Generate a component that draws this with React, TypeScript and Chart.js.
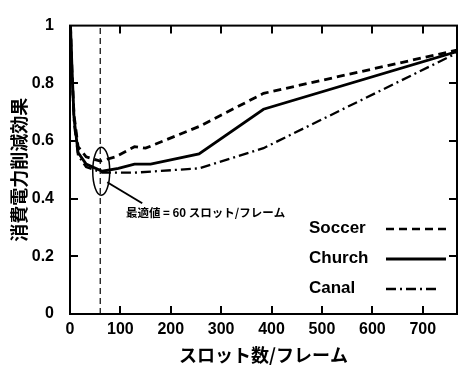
import React, { useEffect, useRef } from "react";
import { Chart, registerables } from "chart.js";

Chart.register(...registerables);

const X_TICKS = [0, 100, 200, 300, 400, 500, 600, 700];
const Y_TICKS = [0, 0.2, 0.4, 0.6, 0.8, 1];
const X_MAX = 768;

const soccerX = [1, 4, 8, 16, 32, 60, 90, 128, 150, 256, 384, 768];
const soccerY = [1.0, 0.84, 0.69, 0.58, 0.545, 0.53, 0.545, 0.58, 0.575, 0.65, 0.765, 0.915];
const churchX = [1, 4, 8, 16, 32, 64, 96, 128, 160, 256, 384, 768];
const churchY = [1.0, 0.85, 0.68, 0.56, 0.52, 0.495, 0.505, 0.52, 0.52, 0.555, 0.71, 0.91];
const canalX = [1, 4, 8, 16, 32, 64, 128, 256, 384, 768];
const canalY = [1.0, 0.82, 0.66, 0.55, 0.51, 0.49, 0.49, 0.505, 0.575, 0.905];

const OPT_X = 60;
const OPT_Y = 0.495;
const LEGEND = ["Soccer", "Church", "Canal"];
const ANNOT = "最適値 = 60 スロット/フレーム";
const X_TITLE = "スロット数/フレーム";
const Y_TITLE = "消費電力削減効果";

const pts = (xs: number[], ys: number[]) => xs.map((x, i) => ({ x, y: ys[i] }));

const DASHES: number[][] = [[8, 5], [], [10, 4, 2, 4]];

export default function App() {
  const ref = useRef<HTMLCanvasElement | null>(null);
  useEffect(() => {
    document.body.style.margin = "0";
    const canvas = ref.current!;
    const framePlugin = {
      id: "frame",
      afterDraw(chart: any) {
        const ctx = chart.ctx;
        const a = chart.chartArea;
        const xs = chart.scales.x;
        const ys = chart.scales.y;
        ctx.save();
        ctx.strokeStyle = "#000";
        ctx.lineWidth = 2;
        ctx.setLineDash([]);
        ctx.strokeRect(a.left, a.top, a.right - a.left, a.bottom - a.top);
        ctx.lineWidth = 2;
        X_TICKS.forEach((v) => {
          if (v === 0) return;
          const px = Math.round(xs.getPixelForValue(v));
          ctx.beginPath();
          ctx.moveTo(px, a.bottom);
          ctx.lineTo(px, a.bottom - 8);
          ctx.moveTo(px, a.top);
          ctx.lineTo(px, a.top + 8);
          ctx.stroke();
        });
        Y_TICKS.forEach((v) => {
          if (v === 0 || v === 1) return;
          const py = Math.round(ys.getPixelForValue(v));
          ctx.beginPath();
          ctx.moveTo(a.left, py);
          ctx.lineTo(a.left + 8, py);
          ctx.moveTo(a.right, py);
          ctx.lineTo(a.right - 8, py);
          ctx.stroke();
        });
        const cx = xs.getPixelForValue(OPT_X) + 1;
        const cy = ys.getPixelForValue(OPT_Y);
        ctx.lineWidth = 1.5;
        ctx.beginPath();
        ctx.ellipse(cx, cy, 8.5, 24, 0, 0, Math.PI * 2);
        ctx.stroke();
        ctx.lineWidth = 2;
        ctx.beginPath();
        ctx.moveTo(cx + 6, cy + 11);
        ctx.lineTo(cx + 41, cy + 32);
        ctx.stroke();
        ctx.fillStyle = "#000";
        ctx.font = "bold 11.5px 'Noto Sans CJK JP', sans-serif";
        ctx.textBaseline = "middle";
        ctx.textAlign = "left";
        ctx.fillText(ANNOT, 126, cy + 41);
        ctx.font = "bold 17px 'Liberation Sans', Arial, sans-serif";
        LEGEND.forEach((label, i) => {
          const y = 228 + i * 30;
          ctx.fillStyle = "#000";
          ctx.fillText(label, 309, y);
          ctx.setLineDash(DASHES[i]);
          ctx.lineWidth = i === 1 ? 3 : 2.5;
          ctx.beginPath();
          ctx.moveTo(386, y + 1);
          ctx.lineTo(i === 2 ? 440 : 446, y + 1);
          ctx.stroke();
        });
        ctx.restore();
      },
    };
    const chart = new Chart(canvas, {
      type: "scatter",
      data: {
        datasets: [
          {
            label: LEGEND[0],
            data: pts(soccerX, soccerY),
            showLine: true,
            borderColor: "#000",
            borderWidth: 2.8,
            borderDash: DASHES[0],
            pointRadius: 0,
          },
          {
            label: LEGEND[1],
            data: pts(churchX, churchY),
            showLine: true,
            borderColor: "#000",
            borderWidth: 2.8,
            pointRadius: 0,
          },
          {
            label: LEGEND[2],
            data: pts(canalX, canalY),
            showLine: true,
            borderColor: "#000",
            borderWidth: 2.3,
            borderDash: DASHES[2],
            pointRadius: 0,
          },
          {
            label: "opt",
            data: [
              { x: OPT_X, y: 0 },
              { x: OPT_X, y: 1 },
            ],
            showLine: true,
            borderColor: "#000",
            borderWidth: 1.2,
            borderDash: [6, 4],
            pointRadius: 0,
          },
        ],
      },
      options: {
        animation: false,
        responsive: false,
        maintainAspectRatio: false,
        layout: { padding: { top: 17, right: 2, left: 0, bottom: 0 } },
        plugins: { legend: { display: false }, tooltip: { enabled: false } },
        scales: {
          x: {
            type: "linear",
            min: 0,
            max: X_MAX,
            afterBuildTicks: (s: any) => {
              s.ticks = X_TICKS.map((v) => ({ value: v }));
            },
            afterFit: (s: any) => {
              s.height = 52;
            },
            grid: { display: false, drawTicks: false },
            border: { display: false },
            ticks: {
              color: "#000",
              padding: 6,
              maxRotation: 0,
              font: { family: "'Liberation Sans', Arial, sans-serif", size: 16, weight: "bold" },
            },
            title: {
              display: true,
              text: X_TITLE,
              color: "#000",
              padding: { top: 2, bottom: 0 },
              font: { family: "'Noto Sans CJK JP', sans-serif", size: 18, weight: "bold" },
            },
          },
          y: {
            type: "linear",
            min: 0,
            max: 1,
            afterBuildTicks: (s: any) => {
              s.ticks = Y_TICKS.map((v) => ({ value: v }));
            },
            afterFit: (s: any) => {
              s.width = 70;
            },
            grid: { display: false, drawTicks: false },
            border: { display: false },
            ticks: {
              color: "#000",
              padding: 16,
              callback: (v: any) => String(Number(v)),
              font: { family: "'Liberation Sans', Arial, sans-serif", size: 16, weight: "bold" },
            },
            title: {
              display: true,
              text: Y_TITLE,
              color: "#000",
              padding: { top: 8, bottom: 0 },
              font: { family: "'Noto Sans CJK JP', sans-serif", size: 18, weight: "bold" },
            },
          },
        },
      },
      plugins: [framePlugin],
    } as any);
    return () => chart.destroy();
  }, []);
  return (
    <div style={{ width: 459, height: 366, background: "#fff" }}>
      <canvas ref={ref} width={459} height={366} />
    </div>
  );
}
